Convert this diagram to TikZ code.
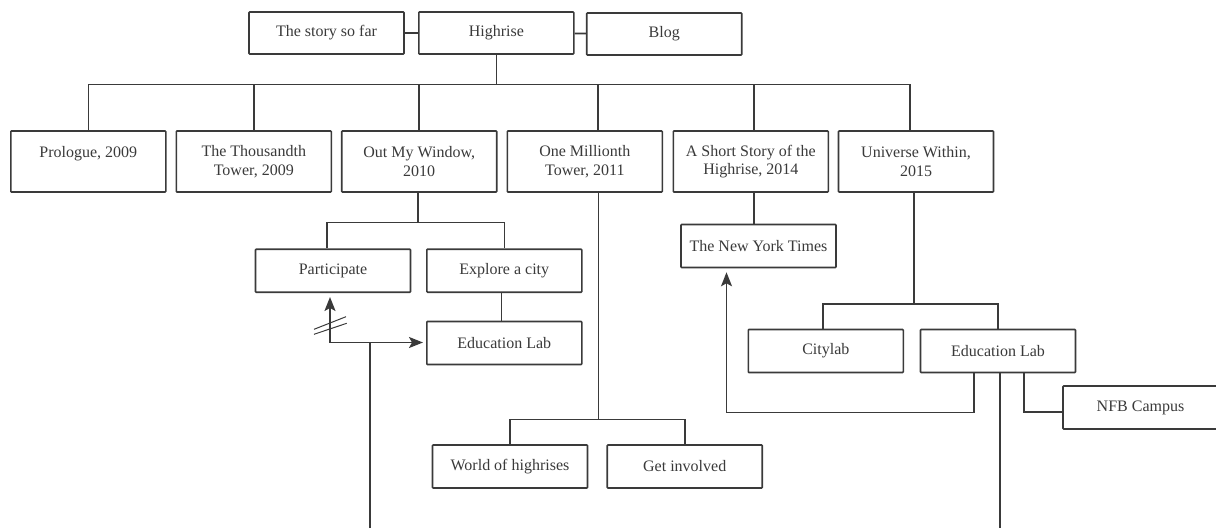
\documentclass[tikz,border=0pt]{standalone}
\usepackage{fontspec}
\setmainfont{Liberation Serif}
\usetikzlibrary{arrows.meta}
\definecolor{ink}{HTML}{3A3A3A}
\tikzset{
  box/.style={draw=ink, line width=1.6pt, rounded corners=.8pt, fill=white,
    text=ink, align=center, minimum width=155pt, minimum height=#1,
    inner sep=2pt, font=\fontsize{16}{18.5}\selectfont},
  box/.default=43pt,
  link/.style={draw=ink, line width=1.6pt},
  flow/.style={link, -{Stealth[length=14pt,width=11pt,inset=3pt]}}
}

\begin{document}
\begin{tikzpicture}[x=1pt, y=-1pt]
  \useasboundingbox (0, 0) rectangle (1216, 528);

  \node[box=42pt] (story) at (326.5, 33) {The story so far};
  \node[box=42pt] (high) at (496.3, 33) {Highrise};
  \node[box=42pt] (blog) at (664.2, 34) {Blog};

  \node[box=61pt] (prol) at (88.3, 161.5) {Prologue, 2009\\~};
  \node[box=61pt] (thou) at (253.8, 161.5) {The Thousandth\\Tower, 2009};
  \node[box=61pt] (omw) at (419.2, 161.5) {Out My Window,\\2010};
  \node[box=61pt] (mil) at (584.8, 161.5) {One Millionth\\Tower, 2011};
  \node[box=61pt] (short) at (750.8, 161.5) {A Short Story of the\\Highrise, 2014};
  \node[box=61pt] (univ) at (916, 161.5) {Universe Within,\\2015};

  \node[box] (part) at (333, 270.7) {Participate};
  \node[box] (expl) at (504.3, 270.7) {Explore a city};
  \node[box] (edu1) at (504.3, 343) {Education Lab};
  \node[box] (nyt) at (758.5, 246) {The New York Times};
  \node[box] (city) at (825.8, 351) {Citylab};
  \node[box] (edu2) at (998, 351) {Education Lab};
  \node[box] (nfb) at (1140.5, 407.5) {NFB Campus};
  \node[box] (world) at (510, 466.5) {World of highrises};
  \node[box] (get) at (684.7, 466.5) {Get involved};

  % bus heights
  \coordinate (busT) at (0, 84.3);
  \coordinate (busO) at (0, 222.3);
  \coordinate (busU) at (0, 304);
  \coordinate (busM) at (0, 419.3);

  \draw[link] (story) -- (high);
  \draw[link] (high) -- (blog);

  \draw[link] (high.south) -- (high.south |- busT);
  \draw[link] (prol.north) |- ([xshift=-6pt]univ.north |- busT)
    -- ([xshift=-6pt]univ.north);
  \draw[link] (thou.north) -- (thou.north |- busT);
  \draw[link] (omw.north) -- (omw.north |- busT);
  \draw[link] ([xshift=13pt]mil.north) -- ([xshift=13pt]mil.north |- busT);
  \draw[link] ([xshift=3pt]short.north) -- ([xshift=3pt]short.north |- busT);

  \draw[link] ([xshift=-1.5pt]omw.south) -- ([xshift=-1.5pt]omw.south |- busO);
  \draw[link] ([xshift=-6pt]part.north) |- (expl.north |- busO) -- (expl.north);
  \draw[link] ([xshift=-3pt]expl.south) -- ([xshift=-3pt]edu1.north);

  \draw[link] ([xshift=3pt]short.south) -- ([xshift=3pt]short.south |- nyt.north);

  \draw[link] ([xshift=-2pt]univ.south) -- ([xshift=-2pt]univ.south |- busU);
  \draw[link] ([xshift=-3pt]city.north) |- (edu2.north |- busU) -- (edu2.north);

  \draw[link] ([xshift=13.5pt]mil.south) -- ([xshift=13.5pt]mil.south |- busM);
  \draw[link] (world.north) |- (get.north |- busM) -- (get.north);

  % inflow below Education Lab
  \coordinate (inA) at (370, 528);
  \coordinate (jn) at (370, 342.5);
  \draw[link] (inA) -- (jn);
  \draw[flow, shorten >=4pt] (jn) -| ([xshift=-3pt]part.south);
  \draw[flow, shorten >=3pt] (jn) -- (edu1.west |- jn);
  \draw[draw=ink, line width=1pt] (314, 329.3) -- (346, 316.7)
    (314, 334.3) -- (346.7, 323.3);

  \draw[flow, shorten >=4pt] ([xshift=-24pt]edu2.south) -- ++(0, 39.3)
    -| ([xshift=-32pt]nyt.south);
  \draw[link] ([xshift=26pt]edu2.south) |- ([yshift=-4.5pt]nfb.west);
  \coordinate (outB) at (1000, 528);
  \draw[link] ([xshift=2pt]edu2.south) -- (outB);
\end{tikzpicture}
\end{document}
